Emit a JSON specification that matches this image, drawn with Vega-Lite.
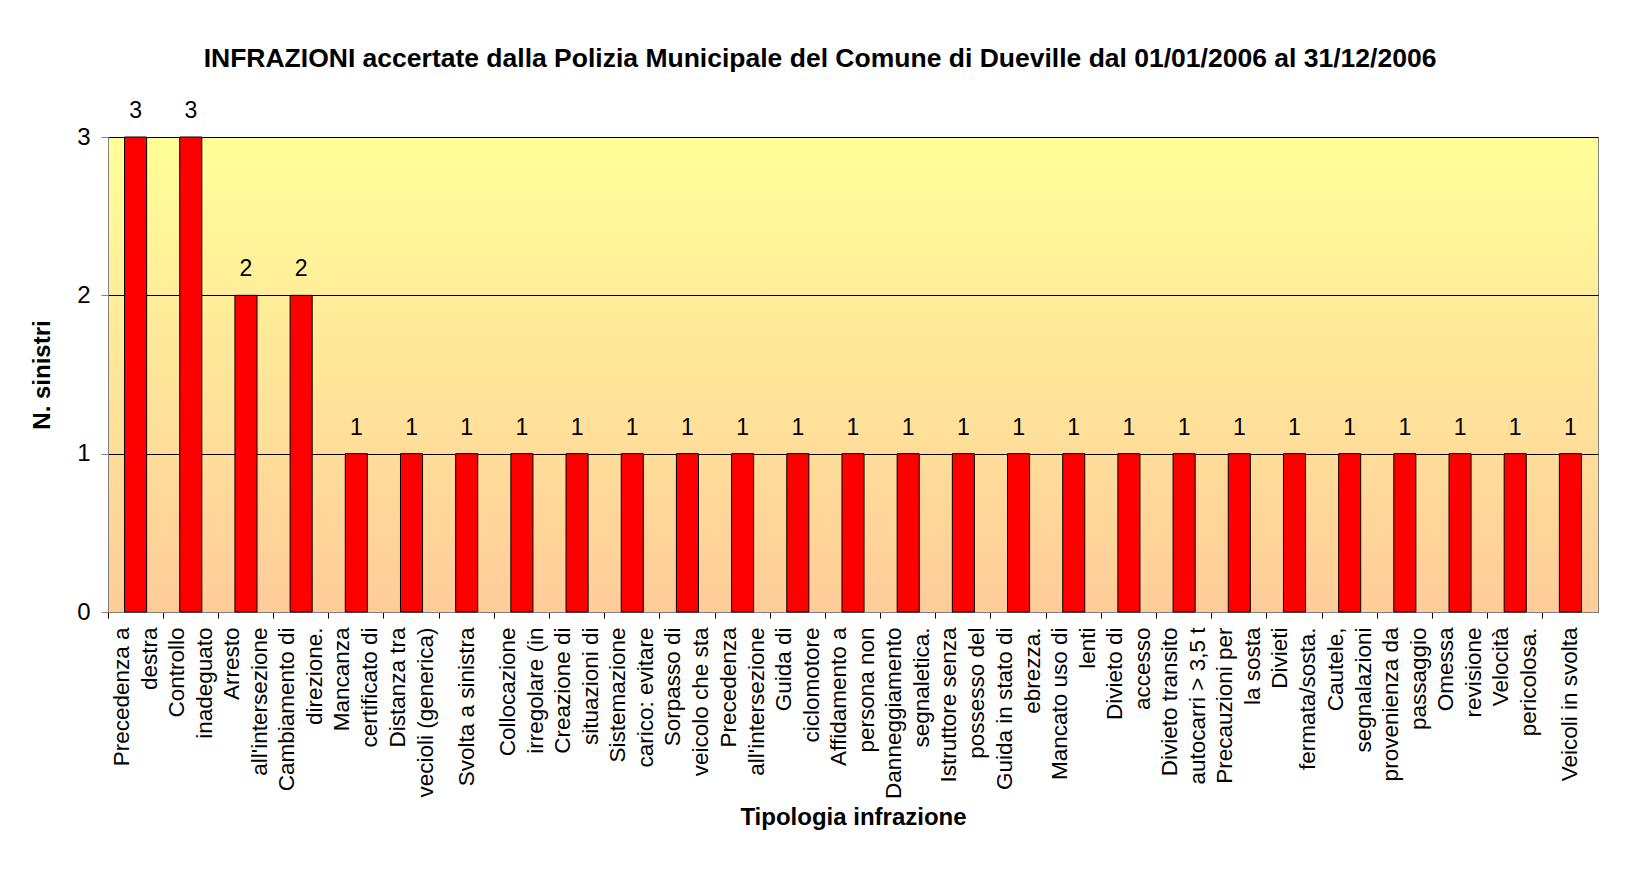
{
  "$schema": "https://vega.github.io/schema/vega-lite/v6.json",
  "width": 1490,
  "height": 475,
  "autosize": {"type": "none"},
  "padding": {"left": 108, "top": 137, "right": 33, "bottom": 257},
  "background": "#FFFFFF",
  "title": {
    "text": "INFRAZIONI accertate dalla Polizia Municipale del Comune di Dueville dal 01/01/2006 al 31/12/2006",
    "font": "Liberation Sans",
    "fontSize": 26.5,
    "fontWeight": "bold",
    "color": "#000000",
    "anchor": "middle",
    "frame": "group",
    "dx": -33,
    "offset": 28
  },
  "config": {
    "view": {
      "stroke": "#808080",
      "strokeWidth": 1,
      "fill": {
        "gradient": "linear",
        "x1": 0, "y1": 0, "x2": 0, "y2": 1,
        "stops": [
          {"offset": 0, "color": "#FFFF99"},
          {"offset": 1, "color": "#FFCC99"}
        ]
      }
    },
    "axis": {
      "labelFont": "Liberation Sans",
      "titleFont": "Liberation Sans",
      "labelColor": "#000000",
      "titleColor": "#000000"
    }
  },
  "data": {
    "values": [
      {"tipologia": "Precedenza a\ndestra", "sinistri": 3},
      {"tipologia": "Controllo\ninadeguato", "sinistri": 3},
      {"tipologia": "Arresto\nall'intersezione", "sinistri": 2},
      {"tipologia": "Cambiamento di\ndirezione.", "sinistri": 2},
      {"tipologia": "Mancanza\ncertificato di", "sinistri": 1},
      {"tipologia": "Distanza tra\nvecioli (generica)", "sinistri": 1},
      {"tipologia": "Svolta a sinistra", "sinistri": 1},
      {"tipologia": "Collocazione\nirregolare (in", "sinistri": 1},
      {"tipologia": "Creazione di\nsituazioni di", "sinistri": 1},
      {"tipologia": "Sistemazione\ncarico: evitare", "sinistri": 1},
      {"tipologia": "Sorpasso di\nveicolo che sta", "sinistri": 1},
      {"tipologia": "Precedenza\nall'intersezione", "sinistri": 1},
      {"tipologia": "Guida di\nciclomotore", "sinistri": 1},
      {"tipologia": "Affidamento a\npersona non", "sinistri": 1},
      {"tipologia": "Danneggiamento\nsegnaletica.", "sinistri": 1},
      {"tipologia": "Istruttore senza\npossesso del", "sinistri": 1},
      {"tipologia": "Guida in stato di\nebrezza.", "sinistri": 1},
      {"tipologia": "Mancato uso di\nlenti", "sinistri": 1},
      {"tipologia": "Divieto di\naccesso", "sinistri": 1},
      {"tipologia": "Divieto transito\nautocarri > 3,5 t", "sinistri": 1},
      {"tipologia": "Precauzioni per\nla sosta", "sinistri": 1},
      {"tipologia": "Divieti\nfermata/sosta.", "sinistri": 1},
      {"tipologia": "Cautele,\nsegnalazioni", "sinistri": 1},
      {"tipologia": "provenienza da\npassaggio", "sinistri": 1},
      {"tipologia": "Omessa\nrevisione", "sinistri": 1},
      {"tipologia": "Velocità\npericolosa.", "sinistri": 1},
      {"tipologia": "Veicoli in svolta", "sinistri": 1}
    ]
  },
  "encoding": {
    "x": {
      "field": "tipologia",
      "type": "nominal",
      "sort": null,
      "scale": {"paddingInner": 0.6, "paddingOuter": 0.3},
      "axis": {
        "title": "Tipologia infrazione",
        "titleFontSize": 24,
        "titleFontWeight": "bold",
        "titlePadding": 7,
        "labelExpr": "split(datum.value, '\\n')",
        "labelAngle": -90,
        "labelAlign": "right",
        "labelBaseline": "middle",
        "labelFontSize": 22.5,
        "labelLineHeight": 28,
        "labelPadding": 9,
        "labelOffset": {"condition": {"test": "indexof(datum.value, '\\n') >= 0", "value": -14}, "value": 0},
        "labelOverlap": false,
        "labelLimit": 0,
        "bandPosition": -0.75,
        "tickSize": 6,
        "tickColor": "#000000",
        "domainColor": "#808080",
        "grid": false
      }
    },
    "y": {
      "field": "sinistri",
      "type": "quantitative",
      "scale": {"domain": [0, 3], "nice": false},
      "axis": {
        "title": "N. sinistri",
        "titleFontSize": 24,
        "titleFontWeight": "bold",
        "titlePadding": 22,
        "values": [0, 1, 2, 3],
        "format": "d",
        "labelFontSize": 24,
        "labelPadding": 11,
        "tickSize": 7,
        "tickColor": "#808080",
        "domainColor": "#808080",
        "grid": true,
        "gridColor": "#000000",
        "gridWidth": 1
      }
    }
  },
  "layer": [
    {
      "mark": {"type": "bar", "color": "#FF0000", "stroke": "#000000", "strokeWidth": 1}
    },
    {
      "mark": {
        "type": "text",
        "font": "Liberation Sans",
        "fontSize": 23,
        "color": "#000000",
        "baseline": "alphabetic",
        "dy": -19
      },
      "encoding": {"text": {"field": "sinistri", "type": "quantitative"}}
    }
  ]
}
